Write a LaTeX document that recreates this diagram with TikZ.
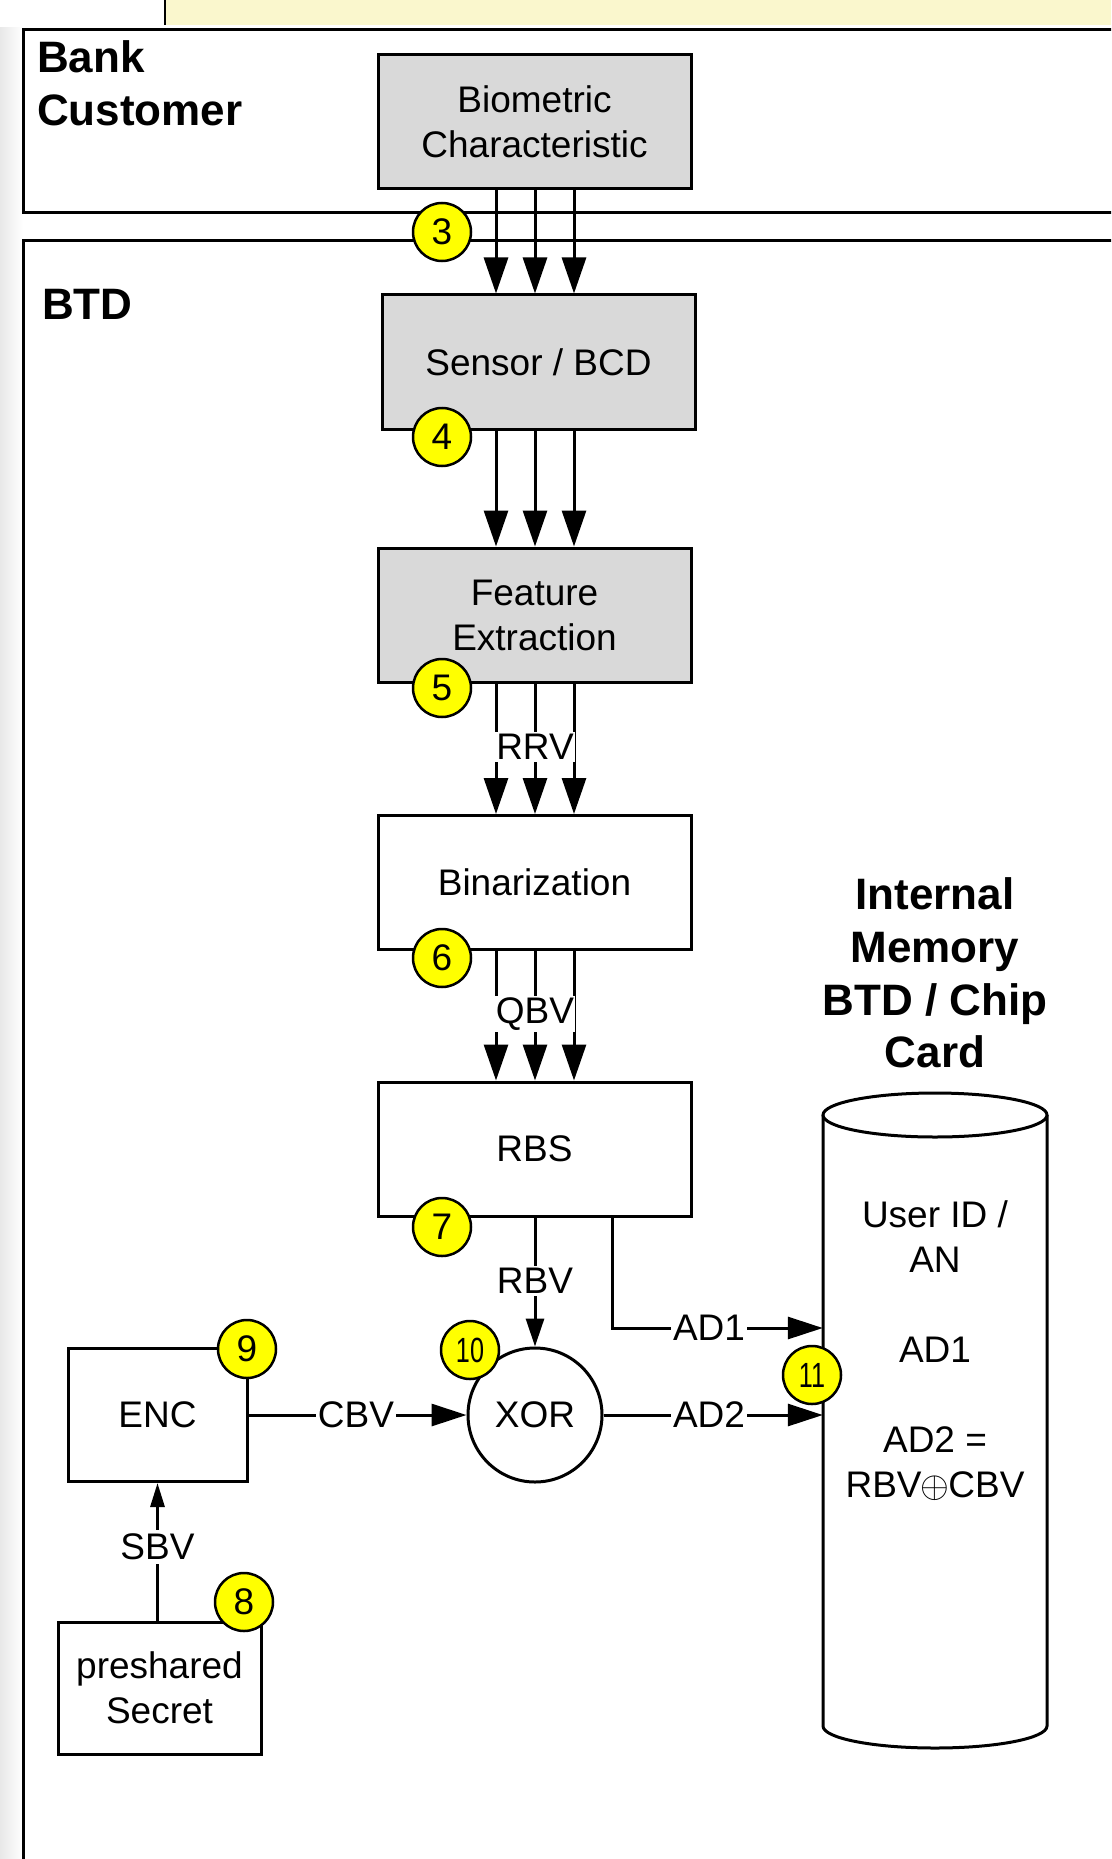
\RequirePackage{fix-cm}
\documentclass[tikz,border=0pt]{standalone}
\usepackage{graphicx}
\usepackage{fontspec}
\setmainfont{Liberation Sans}
\usetikzlibrary{arrows.meta}
\definecolor{boxgrey}{HTML}{D9D9D9}
\definecolor{badgeyellow}{HTML}{FFFF00}
\definecolor{stripyellow}{HTML}{FAF7CD}
\begin{document}
\begin{tikzpicture}[x=1pt,y=-1pt,
  lw/.style={line width=3pt},
  txt/.style={font=\fontsize{37}{45}\selectfont},
  procbox/.style={draw, lw, fill=white, minimum width=313pt, minimum height=134pt, inner sep=0pt, align=center, txt},
  greybox/.style={procbox, fill=boxgrey},
  badge/.style={circle, draw, line width=2.5pt, fill=badgeyellow, minimum size=58pt, inner sep=0pt, font=\fontsize{37}{37}\selectfont},
  badgetwo/.style={badge, font=\fontsize{35}{35}\selectfont},
  flow/.style={lw, -{Triangle[length=36pt,width=24pt]}},
  flowm/.style={lw, -{Triangle[length=35pt,width=22pt]}},
  flowr/.style={lw, -{Triangle[length=28pt,width=18pt]}},
  flows/.style={lw, -{Triangle[length=24pt,width=14pt]}},
  lab/.style={fill=white, inner xsep=1pt, inner ysep=2pt, txt},
  hlab/.style={fill=white, inner xsep=2pt, inner ysep=2pt, txt}
]
\useasboundingbox (0,0) rectangle (1111,1859);
\clip (0,0) rectangle (1111,1859);
\fill[white] (0,0) rectangle (1111,1859);
\shade[left color=black!9, right color=white] (0,28) rectangle (23,1859);
\fill[stripyellow] (165,0) rectangle (1111,25);
\draw[line width=2pt] (165,0) -- (165,25);

% lanes
\draw[lw] (23,30) rectangle (1130,213);
\draw[lw] (23,241) rectangle (1130,1890);
\node[font=\bfseries\fontsize{44}{53}\selectfont, align=left, anchor=west, inner sep=0pt] (cust) at (37,83) {Bank\\Customer};
\node[font=\bfseries\fontsize{44}{53}\selectfont, anchor=west, inner sep=0pt] (btd) at (42,304) {BTD};

% process chain
\node[greybox] (bio) at (534.5,122) {Biometric\\Characteristic};
\node[greybox] (sensor) at (538.5,362) {Sensor / BCD};
\node[greybox] (feat) at (534.5,615) {Feature\\Extraction};
\node[procbox] (bin) at (534.5,882.5) {Binarization};
\node[procbox] (rbs) at (534.5,1149) {RBS};

\coordinate (a1) at (496,0);
\coordinate (a2) at (535,0);
\coordinate (a3) at (574,0);
\foreach \c in {a1,a2,a3} {
  \draw[flow] (bio.south -| \c) -- (sensor.north -| \c);
  \draw[flow] (sensor.south -| \c) -- (feat.north -| \c);
  \draw[flow] (feat.south -| \c) -- (bin.north -| \c);
  \draw[flow] (bin.south -| \c) -- (rbs.north -| \c);
}
\node[lab] (rrv) at (535,747) {RRV};
\node[lab] (qbv) at (535,1014) {QBV};

% memory cylinder
\draw[lw, fill=white] (823,1115) -- (823,1726) arc[start angle=180, end angle=0, x radius=112, y radius=22] -- (1047,1115);
\draw[lw, fill=white] (935,1115) ellipse[x radius=112, y radius=22];
\node[txt, align=center, minimum width=224pt, inner sep=0pt] (mem) at (935,1351)
  {User ID /\\AN\\[45pt]AD1\\[45pt]AD2 =\\RBV\kern-1pt$\oplus$\kern-1pt CBV};
\node[font=\bfseries\fontsize{44}{52.7}\selectfont, align=center, inner sep=0pt] (memtitle) at (935,973)
  {Internal\\Memory\\BTD / Chip\\Card};

% lower part
\node[draw, lw, circle, minimum size=134pt, inner sep=0pt, fill=white, txt] (xor) at (535,1415) {XOR};
\node[procbox, minimum width=179pt, minimum height=133pt] (enc) at (157.5,1415) {ENC};
\node[procbox, minimum width=203pt, minimum height=132pt] (sec) at (159.5,1688) {preshared\\Secret};

\draw[flowr] (rbs.south -| xor.north) -- (xor.north);
\node[lab, inner xsep=3pt] (rbv) at (535,1281) {RBV};

\coordinate (tap) at (612,1328);
\draw[flowm] (rbs.south -| tap) |- (mem.west |- tap);
\node[hlab] (ad1) at (709,1328) {AD1};

\draw[flowm] (xor.east) -- (mem.west |- xor.east);
\node[hlab] (ad2) at (709,1415) {AD2};

\draw[flowm] (enc.east) -- (xor.west);
\node[hlab] (cbv) at (356,1415) {CBV};

\draw[flows] (enc.south |- sec.north) -- (enc.south);
\node[lab, inner ysep=4pt] (sbv) at (157.5,1547) {SBV};

% badges
\node[badge] (b3) at (442,232) {3};
\node[badge] (b4) at (442,437) {4};
\node[badge] (b5) at (442,688) {5};
\node[badge] (b6) at (442,958) {6};
\node[badge] (b7) at (442,1227) {7};
\node[badge] (b8) at (244,1602) {8};
\node[badge] (b9) at (247,1349) {9};
\node[badgetwo] (b10) at (470,1350) {\scalebox{0.72}[1]{10}};
\node[badgetwo] (b11) at (812,1375) {\scalebox{0.72}[1]{11}};
\end{tikzpicture}
\end{document}
